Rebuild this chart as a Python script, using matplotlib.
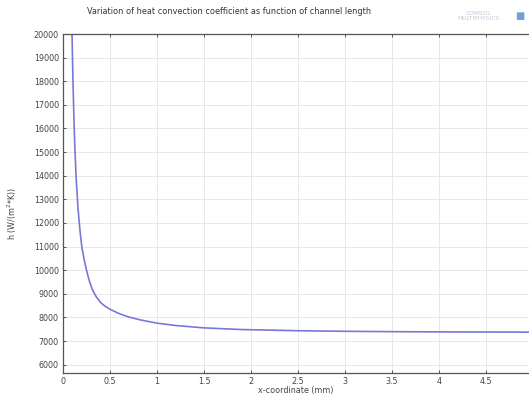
import matplotlib
matplotlib.use("Agg")
import matplotlib.pyplot as plt
import numpy as np

# h along the channel
x_mm = [0.096, 0.105, 0.115, 0.125, 0.14, 0.16, 0.18, 0.20, 0.225, 0.25,
        0.28, 0.31, 0.35, 0.40, 0.45, 0.50, 0.60, 0.70, 0.82, 1.0,
        1.2, 1.5, 1.9, 2.5, 3.0, 3.5, 4.0, 4.5, 5.0]
h_val = [20000, 18200, 16600, 15300, 13900, 12600, 11700, 11000, 10450, 10000,
         9550, 9200, 8900, 8630, 8470, 8350, 8160, 8020, 7900, 7760,
         7660, 7560, 7490, 7440, 7415, 7400, 7390, 7385, 7380]

x_ticks = [0, 0.5, 1, 1.5, 2, 2.5, 3, 3.5, 4, 4.5]
x_ticklabels = ["0", "0.5", "1", "1.5", "2", "2.5", "3", "3.5", "4", "4.5"]
y_ticks = list(range(6000, 20001, 1000))

fig = plt.figure(figsize=(5.29, 3.97), dpi=100)
ax = fig.add_axes([63/529, 1 - 373/397, 466/529, (373 - 34)/397])

ax.plot(x_mm, h_val, color="#7878dc", lw=1.2, solid_capstyle="round")

ax.set_xlim(0, 4.957)
ax.set_ylim(5650, 20000)
ax.set_xticks(x_ticks)
ax.set_xticklabels(x_ticklabels)
ax.set_yticks(y_ticks)

ax.grid(True, color="#e8e8e8", lw=0.7)
ax.set_axisbelow(True)
for s in ["left", "bottom", "top"]:
    ax.spines[s].set_color("#555555")
    ax.spines[s].set_linewidth(0.9)
ax.spines["right"].set_visible(False)
ax.tick_params(direction="in", length=2.5, width=0.7, colors="#555555",
               labelsize=5.8, labelcolor="#444444", top=True, pad=3)

ax.set_xlabel("x-coordinate (mm)", fontsize=5.8, color="#444444", labelpad=0)
ax.set_ylabel("h (W/(m$^2$*K))", fontsize=5.8, color="#444444")
ax.yaxis.set_label_coords(-44/466, 0.47)

fig.text(87/529, 1 - 12/397, "Variation of heat convection coefficient as function of channel length",
         fontsize=5.9, color="#333333", va="center", ha="left")

# faint COMSOL logo text in the corner
fig.text(478/529, 1 - 16/397, "COMSOL\nMULTIPHYSICS", fontsize=4.2, color="#bccbdb",
         ha="center", va="center", linespacing=0.9)
fig.text(520/529, 1 - 16/397, "\u25A0", fontsize=7, color="#6aa4d6", ha="center", va="center")

plt.savefig("out.png", dpi=100)
